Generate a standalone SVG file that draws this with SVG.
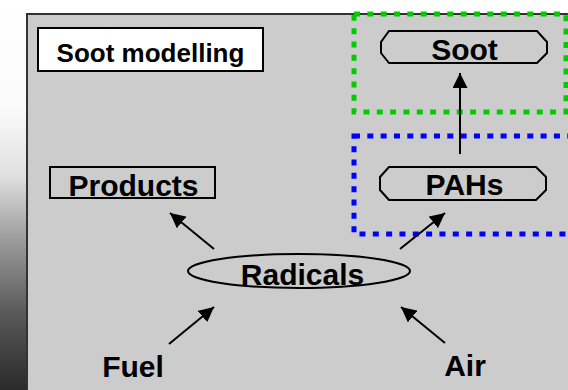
<svg xmlns="http://www.w3.org/2000/svg" width="568" height="390" viewBox="0 0 568 390">
<style>
.lbl{font-family:"Liberation Sans",Arial,sans-serif;font-weight:bold;font-size:30px;fill:#000;text-anchor:middle}
.title{font-family:"Liberation Sans",Arial,sans-serif;font-weight:bold;font-size:26px;fill:#000;text-anchor:middle}
.shape{fill:none;stroke:#000;stroke-width:2}
.conn{stroke:#000;stroke-width:2;fill:none;marker-end:url(#ah)}
.dotg{fill:none;stroke:#00cc00;stroke-width:5;stroke-dasharray:6 7.33}
.dotb{fill:none;stroke:#0000ff;stroke-width:5;stroke-dasharray:6 7.33}
</style>
<defs>
<linearGradient id="strip" x1="0" y1="0" x2="0" y2="1">
<stop offset="0" stop-color="#ffffff"/>
<stop offset="0.28" stop-color="#fafafa"/>
<stop offset="0.45" stop-color="#e0e0e0"/>
<stop offset="0.62" stop-color="#9a9a9a"/>
<stop offset="0.8" stop-color="#5a5a5a"/>
<stop offset="1" stop-color="#2a2a2a"/>
</linearGradient>
<marker id="ah" viewBox="0 0 15 15" refX="15" refY="7.5" markerWidth="15" markerHeight="15" markerUnits="userSpaceOnUse" orient="auto">
<path d="M0,0 L15,7.5 L0,15 z" fill="#000"/>
</marker>
</defs>
<rect x="0" y="0" width="568" height="390" fill="#ffffff"/>
<rect x="0" y="0" width="27" height="390" fill="url(#strip)"/>
<rect id="panel" x="27" y="14" width="545" height="380" fill="#cccccc" stroke="#333333" stroke-width="2"/>

<g id="soot-region">
<rect class="dotg" x="354" y="14" width="212" height="98"/>
</g>
<g id="pah-region">
<rect class="dotb" x="354" y="136" width="230" height="98"/>
</g>

<g id="title">
<rect x="38" y="28" width="225" height="43" fill="#ffffff" stroke="#000" stroke-width="2"/>
<text class="title" x="150.5" y="62">Soot modelling</text>
</g>

<g id="products">
<rect class="shape" x="50" y="167" width="165" height="31"/>
<text class="lbl" x="133.5" y="196">Products</text>
</g>

<g id="soot">
<path class="shape" d="M389,31 H537 L547,42 V53 L537,63 H389 L381,53 V42 Z"/>
<text class="lbl" x="464.5" y="60">Soot</text>
</g>

<g id="pahs">
<path class="shape" d="M389,167 H536 L546,177 V190 L536,200 H389 L380,190 V177 Z"/>
<text class="lbl" x="464.5" y="195">PAHs</text>
</g>

<g id="radicals">
<ellipse class="shape" cx="299" cy="271" rx="111" ry="17"/>
<text class="lbl" x="302.5" y="285">Radicals</text>
</g>

<g id="fuel">
<text class="lbl" x="133" y="377">Fuel</text>
</g>

<g id="air">
<text class="lbl" x="465" y="376">Air</text>
</g>

<g id="connectors">
<line class="conn" x1="460" y1="154" x2="460" y2="73"/>
<line class="conn" x1="214" y1="249" x2="170" y2="213"/>
<line class="conn" x1="400" y1="249" x2="445" y2="213"/>
<line class="conn" x1="169" y1="344" x2="214" y2="307"/>
<line class="conn" x1="445" y1="343" x2="401" y2="307"/>
</g>
</svg>
